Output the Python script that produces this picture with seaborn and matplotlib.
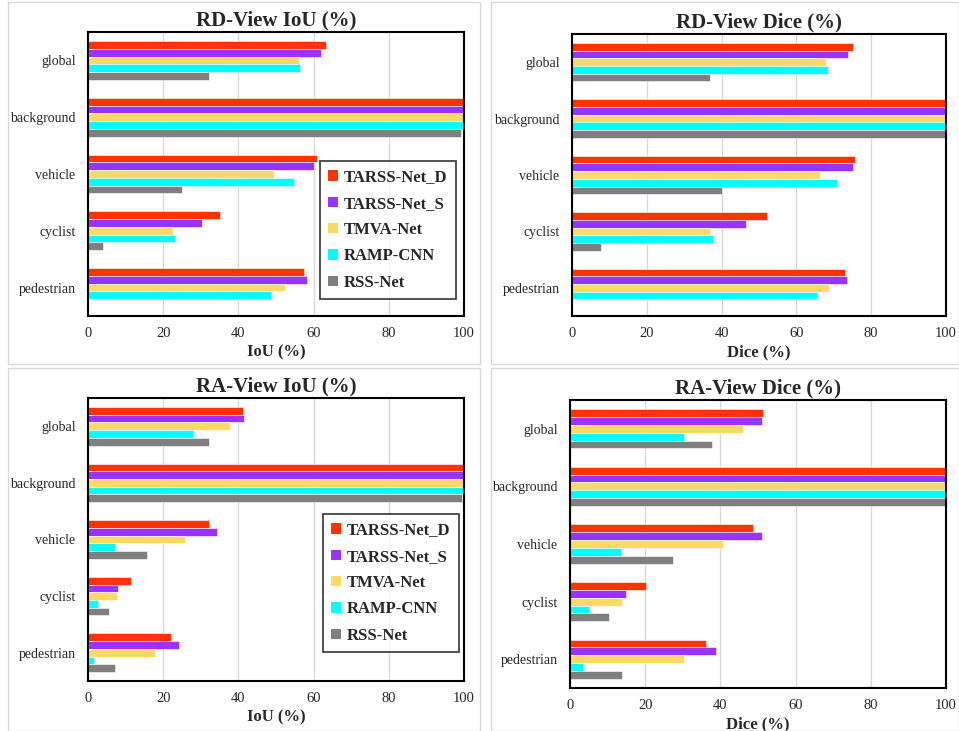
import numpy as np
import pandas as pd
import matplotlib
matplotlib.use("Agg")
import matplotlib.pyplot as plt
from matplotlib.patches import Rectangle
import seaborn as sns

# data
categories = ["global", "background", "vehicle", "cyclist", "pedestrian"]
models = ["TARSS-Net_D", "TARSS-Net_S", "TMVA-Net", "RAMP-CNN", "RSS-Net"]
colors = ["#FF3300", "#9933FF", "#FFD966", "#00FFFF", "#7F7F7F"]

# rows follow `models`, columns follow `categories`
rd_iou = [
    [63.4, 99.9, 60.9, 35.2, 57.5],
    [62.0, 99.9, 60.2, 30.2, 58.2],
    [56.0, 99.8, 49.6, 22.7, 52.5],
    [56.5, 99.8, 54.7, 23.1, 48.8],
    [32.1, 99.2, 25.0, 4.0, np.nan],
]
rd_dice = [
    [75.2, 100.0, 75.8, 52.2, 73.1],
    [73.8, 100.0, 75.2, 46.5, 73.6],
    [67.9, 100.0, 66.2, 37.0, 68.8],
    [68.5, 100.0, 70.9, 37.7, 65.5],
    [36.9, 100.0, 40.0, 7.8, np.nan],
]
ra_iou = [
    [41.3, 99.9, 32.2, 11.5, 22.1],
    [41.6, 99.9, 34.2, 8.1, 24.2],
    [37.7, 99.8, 25.7, 7.6, 17.9],
    [28.0, 99.8, 7.3, 2.6, 1.7],
    [32.1, 99.5, 15.8, 5.7, 7.3],
]
ra_dice = [
    [51.3, 100.0, 48.6, 20.3, 36.2],
    [51.1, 100.0, 51.0, 14.9, 38.9],
    [46.1, 100.0, 40.7, 13.9, 30.2],
    [30.4, 100.0, 13.5, 5.1, 3.4],
    [37.8, 100.0, 27.4, 10.5, 13.7],
]

sns.set_style("white")
plt.rcParams["font.family"] = ["Liberation Serif", "DejaVu Serif"]


def to_long(values):
    rows = []
    for m, vals in zip(models, values):
        for c, v in zip(categories, vals):
            rows.append({"category": c, "model": m, "value": v})
    return pd.DataFrame(rows)


W, H = 959, 731
fig = plt.figure(figsize=(W / 100, H / 100), dpi=100)

# (values, title, xlabel, axes box in pixels [left, top, right, bottom], frame, legend box)
panels = [
    (rd_iou, "RD-View IoU (%)", "IoU (%)", (88, 32, 464, 316), (8, 2, 480, 364), (320, 161, 452, 299)),
    (rd_dice, "RD-View Dice (%)", "Dice (%)", (572, 34, 946, 316), (491, 2, 959, 364), None),
    (ra_iou, "RA-View IoU (%)", "IoU (%)", (88, 398, 464, 681), (8, 368, 480, 731), (323, 514, 452, 665)),
    (ra_dice, "RA-View Dice (%)", "Dice (%)", (570, 400, 946, 688), (491, 368, 959, 731), None),
]

for values, title, xlabel, box, frame, leg in panels:
    # light grey frame around each sub-picture
    fl, ft, fr, fb = frame
    fig.patches.append(Rectangle((fl / W, 1 - fb / H), (fr - fl) / W, (fb - ft) / H,
                                 transform=fig.transFigure, fill=False,
                                 edgecolor="#D9D9D9", linewidth=1.0))

    l, t, r, b = box
    ax = fig.add_axes([l / W, 1 - b / H, (r - l) / W, (b - t) / H])
    df = to_long(values)
    sns.barplot(data=df, y="category", x="value", hue="model",
                order=categories, hue_order=models, palette=colors,
                saturation=1, width=0.68, orient="h", ax=ax,
                legend=leg is not None, edgecolor="white", linewidth=0.4)

    ax.set_xlim(0, 100)
    ax.set_xticks([0, 20, 40, 60, 80, 100])
    ax.grid(axis="x", color="#D9D9D9", linewidth=1.0)
    ax.set_axisbelow(True)
    ax.tick_params(axis="x", length=0, labelsize=10.5, pad=8)
    ax.tick_params(axis="y", length=0, labelsize=10, pad=9)
    ax.set_ylabel("")
    ax.set_xlabel(xlabel, fontsize=12, fontweight="bold", labelpad=3)
    ax.set_title(title, fontsize=15, fontweight="bold", pad=5)
    for sp in ax.spines.values():
        sp.set_visible(True)
        sp.set_color("black")
        sp.set_linewidth(1.5)

    if leg is not None:
        ll, lt, lr, lb = leg
        lg = ax.legend(loc="upper left",
                       bbox_to_anchor=((ll - l) / (r - l), 1 - (lt - t) / (b - t)),
                       frameon=True, fancybox=False, edgecolor="black",
                       prop={"weight": "bold", "size": 12},
                       handlelength=0.6, handleheight=0.6, handletextpad=0.35,
                       labelspacing=0.62, borderpad=0.5, borderaxespad=0)
        lg.get_frame().set_linewidth(1.2)
        for h in lg.legend_handles:
            h.set_edgecolor("none")

fig.savefig("out.png", dpi=100, facecolor="white")
